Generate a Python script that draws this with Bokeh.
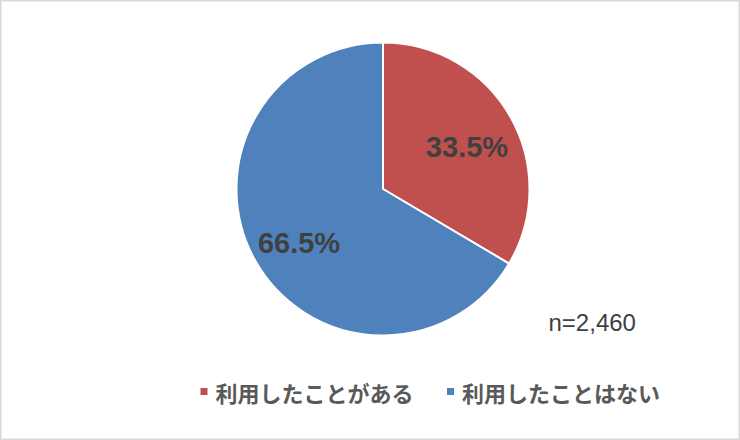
import math
from bokeh.plotting import figure
from bokeh.models import Range1d, ColumnDataSource
from bokeh.core.properties import value
from bokeh.embed import file_html
from bokeh.resources import INLINE

# ---- data ----
categories = ["利用したことがある", "利用したことはない"]
shares = [33.5, 66.5]
colors = ["#C0504D", "#4F81BD"]
sample_note = "n=2,460"

# ---- layout constants (pixels) ----
W, H = 740, 440
CX, CY, R = 382.5, 251.5, 146.5
LABEL_FRAC = 0.66
LABEL_DY = -6
LEGEND_X = [203.5, 450.0]
LEGEND_Y = 49
TEXT_GAP = 11.5

total = sum(shares)
starts, ends, lx, ly, labels = [], [], [], [], []
cum = 0.0
for s in shares:
    a0 = math.pi / 2 - 2 * math.pi * cum / total
    a1 = math.pi / 2 - 2 * math.pi * (cum + s) / total
    starts.append(a0)
    ends.append(a1)
    mid = (a0 + a1) / 2
    lx.append(CX + LABEL_FRAC * R * math.cos(mid))
    ly.append(CY + LABEL_FRAC * R * math.sin(mid) + LABEL_DY)
    labels.append(f"{s:.1f}%")
    cum += s

src = ColumnDataSource(dict(cat=categories, start=starts, end=ends,
                            color=colors, lx=lx, ly=ly, label=labels,
                            gx=LEGEND_X, gy=[LEGEND_Y] * len(categories),
                            tx=[x + TEXT_GAP for x in LEGEND_X]))

p = figure(width=W, height=H, x_range=Range1d(0, W), y_range=Range1d(0, H),
           x_axis_type=None, y_axis_type=None, toolbar_location=None,
           output_backend="svg", min_border=0)
p.grid.visible = False
p.background_fill_color = "white"
p.border_fill_color = "white"
p.outline_line_color = "#D9D9D9"
p.outline_line_width = 2

p.wedge(x=CX, y=CY, radius=R, start_angle="start", end_angle="end",
        direction="clock", fill_color="color", line_color="white",
        line_width=2, source=src)

p.text(x="lx", y="ly", text="label", source=src,
       text_font=value("Liberation Sans"), text_font_style="bold",
       text_font_size="29px", text_color="#404040",
       text_align="center", text_baseline="middle")

# legend
p.scatter(x="gx", y="gy", marker="square", size=7, fill_color="color",
          line_color=None, source=src)
p.text(x="tx", y="gy", text="cat", source=src,
       text_font=value("Noto Sans CJK JP"), text_font_style="bold",
       text_font_size="22px", text_color="#595959",
       text_align="left", text_baseline="middle")

p.text(x=[548], y=[118], text=[sample_note],
       text_font=value("Liberation Sans"), text_font_size="24px",
       text_color="#404040", text_align="left", text_baseline="middle")

open("out.html", "w").write(file_html(p, INLINE))
